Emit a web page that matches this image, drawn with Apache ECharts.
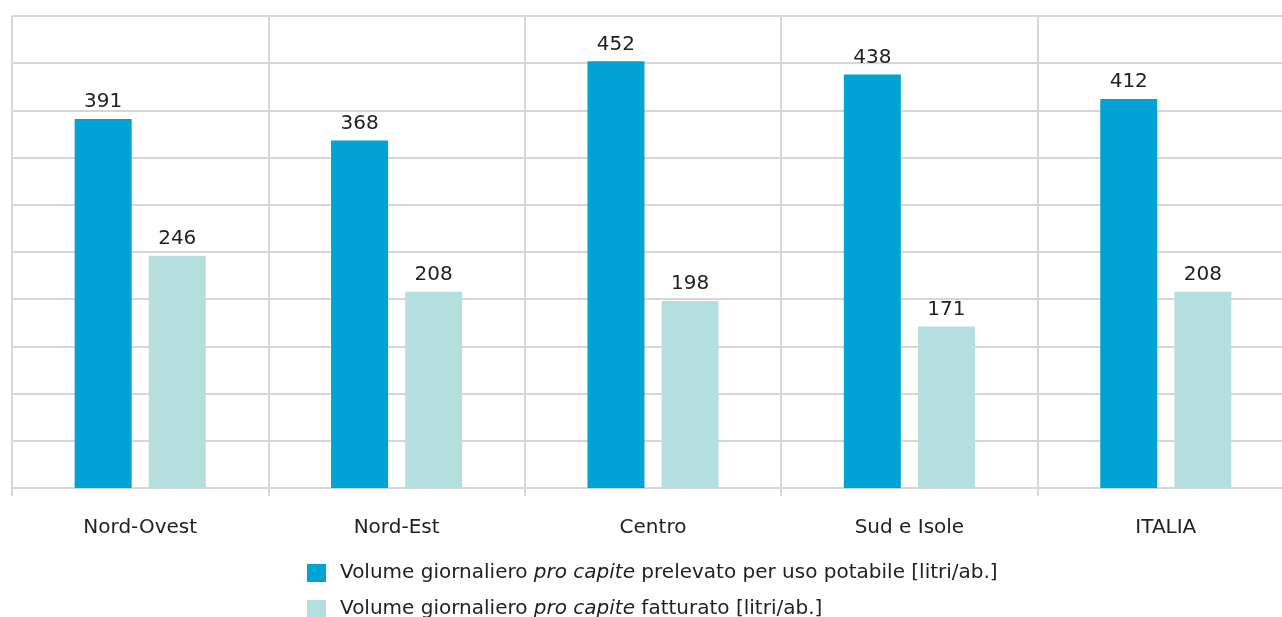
<!DOCTYPE html>
<html><head><meta charset="utf-8">
<script src="https://cdn.jsdelivr.net/npm/echarts@6/dist/echarts.min.js"></script>
<style>html,body{margin:0;padding:0;background:#fff;overflow:hidden}#c{width:1296px;height:617px}</style>
</head><body><div id="c"></div>
<script>
const categories = ['Nord-Ovest', 'Nord-Est', 'Centro', 'Sud e Isole', 'ITALIA'];
const prelevato = [391, 368, 452, 438, 412];
const fatturato = [246, 208, 198, 171, 208];
const seriesNames = [
  'Volume giornaliero pro capite prelevato per uso potabile [litri/ab.]',
  'Volume giornaliero pro capite fatturato [litri/ab.]'
];
const FONT = '"DejaVu Sans", sans-serif';
const FS = 20;
const legendBase = {
  orient: 'vertical', left: 307, padding: 0, itemWidth: 19, itemHeight: 18,
  icon: 'rect',
  textStyle: { fontSize: FS, color: '#222', fontFamily: FONT,
    rich: {
      sp: { width: 9 },
      n: { fontSize: FS, color: '#222', fontFamily: FONT },
      i: { fontSize: FS, color: '#222', fontFamily: FONT, fontStyle: 'italic' }
    } },
  formatter: function (name) {
    const parts = name.split('pro capite');
    return '{sp| }{n|' + parts[0] + '}{i|pro capite}{n|' + parts[1] + '}';
  }
};
const chart = echarts.init(document.getElementById('c'));
chart.setOption({
  animation: false,
  grid: { left: 12, top: 16, width: 1282, height: 472, containLabel: false },
  xAxis: {
    type: 'category', data: categories,
    axisLine: { show: true, lineStyle: { color: '#d6d6d6', width: 2 } },
    axisTick: { show: true, length: 8, lineStyle: { color: '#d6d6d6', width: 2 } },
    splitLine: { show: true, lineStyle: { color: '#d6d6d6', width: 2 } },
    axisLabel: { margin: 30, fontSize: FS, color: '#222', fontFamily: FONT }
  },
  yAxis: {
    type: 'value', min: 0, max: 500, interval: 50,
    axisLabel: { show: false }, axisLine: { show: false }, axisTick: { show: false },
    splitLine: { lineStyle: { color: '#d6d6d6', width: 2 } }
  },
  legend: [
    Object.assign({}, legendBase, { top: 563, data: [seriesNames[0]] }),
    Object.assign({}, legendBase, { top: 599, data: [seriesNames[1]] })
  ],
  series: [
    { name: seriesNames[0], type: 'bar', data: prelevato, barWidth: 57, barGap: '30%',
      itemStyle: { color: '#00a3d3' },
      label: { show: true, position: 'top', distance: 7, fontSize: FS, color: '#222', fontFamily: FONT } },
    { name: seriesNames[1], type: 'bar', data: fatturato, barWidth: 57,
      itemStyle: { color: '#b5dfde' },
      label: { show: true, position: 'top', distance: 7, fontSize: FS, color: '#222', fontFamily: FONT } }
  ]
});
</script></body></html>
